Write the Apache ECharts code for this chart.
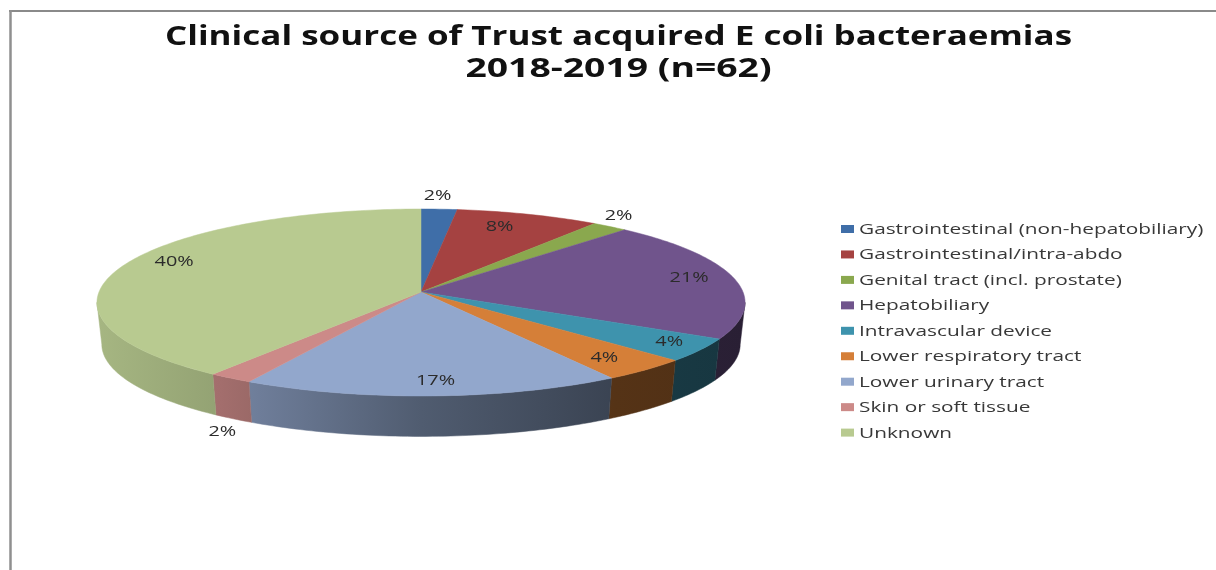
<!DOCTYPE html>
<html>
<head>
<meta charset="utf-8">
<style>html,body{margin:0;padding:0;background:#fff}#chart{width:1216px;height:570px}</style>
<script src="https://cdn.jsdelivr.net/npm/echarts@6/dist/echarts.min.js"></script>
</head>
<body>
<div id="chart"></div>
<script>
// Clinical sources and their share of the bacteraemia cases, in percent.
const titleLines = ['Clinical source of Trust acquired E coli bacteraemias', '2018-2019 (n=62)'];
const categories = [
  'Gastrointestinal (non-hepatobiliary)', 'Gastrointestinal/intra-abdo',
  'Genital tract (incl. prostate)', 'Hepatobiliary', 'Intravascular device',
  'Lower respiratory tract', 'Lower urinary tract', 'Skin or soft tissue', 'Unknown'
];
const shares = [2, 8, 2, 21, 4, 4, 17, 2, 40];
const colors = ['#3f6ea8', '#a54241', '#8aa84e', '#70548c', '#3e93ad', '#d57f38', '#92a7cc', '#cc8a88', '#b8ca90'];

// Label placement: radial position on the disc plus a small pixel nudge.
const labelRadius = [1.15, 0.84, 1.05, 0.83, 0.9, 0.85, 0.85, 1.0, 0.85];
const labelNudge = [[-4, -2], [-13, 1], [0, -8], [8, -2], [-1, -2], [-5, 1], [5, 2], [-8, 54], [6, -6]];

// Tilted disc: a perspective projection of the unit circle, apex at (cx, cy).
const cx = 421, cy = 292, radiusX = 322, radiusY = 92.3, persp = 0.1123;
const depth = 42, baseScale = 0.985;
const frontFrom = 96.4, frontTo = 263.6;  // angular range of the visible rim

const total = shares.reduce((a, b) => a + b, 0);
const cumulative = shares.reduce((acc, v) => { acc.push(acc[acc.length - 1] + v); return acc; }, [0]);
const toDeg = p => p / total * 360;

function project(deg, r) {
  const t = deg * Math.PI / 180, u = r * Math.sin(t), v = r * Math.cos(t), w = 1 + persp * v;
  return [cx + radiusX * u / w, cy - radiusY * v / w];
}
function lowerRim(p) {
  return [cx + (p[0] - cx) * baseScale, cy + depth + (p[1] - cy) * baseScale];
}
function arc(a0, a1, r) {
  const pts = [], n = Math.max(2, Math.ceil(a1 - a0));
  for (let i = 0; i <= n; i++) pts.push(project(a0 + (a1 - a0) * i / n, r));
  return pts;
}

// Rim shading darkens from left to right across the whole disc.
const shadeStops = [[0, 0.9], [0.19, 0.8], [0.25, 0.75], [0.5, 0.55], [0.8, 0.4], [1, 0.37]];
function shadedRim(hex) {
  const c = echarts.color.parse(hex);
  return new echarts.graphic.LinearGradient(cx - 324, 0, cx + 324, 0, shadeStops.map(s => ({
    offset: s[0],
    color: 'rgb(' + Math.round(c[0] * s[1]) + ',' + Math.round(c[1] * s[1]) + ',' + Math.round(c[2] * s[1]) + ')'
  })), true);
}

function renderRim(params) {
  const i = params.dataIndex;
  const a0 = Math.max(toDeg(cumulative[i]), frontFrom), a1 = Math.min(toDeg(cumulative[i + 1]), frontTo);
  if (a1 <= a0) return null;
  const top = arc(a0, a1, 1);
  const fill = shadedRim(colors[i]);
  return {
    type: 'polygon',
    shape: { points: top.concat(top.map(lowerRim).reverse()) },
    style: { fill: fill, stroke: fill, lineWidth: 0.5 }
  };
}

function renderFace(params) {
  const i = params.dataIndex;
  return {
    type: 'polygon',
    shape: { points: [[cx, cy]].concat(arc(toDeg(cumulative[i]), toDeg(cumulative[i + 1]), 1)) },
    style: { fill: colors[i], stroke: colors[i], lineWidth: 0.5 }
  };
}

function renderLabel(params, api) {
  const i = params.dataIndex;
  const p = project((toDeg(cumulative[i]) + toDeg(cumulative[i + 1])) / 2, labelRadius[i]);
  return {
    type: 'text',
    x: p[0] + labelNudge[i][0],
    y: p[1] + labelNudge[i][1],
    scaleX: 1.42,
    style: {
      text: api.value(0) + '%',
      font: '14px "Open Sans"',
      fill: '#2b2b2b',
      align: 'center',
      verticalAlign: 'middle'
    }
  };
}

// Key on the right: one swatch and one widened text per source.
const legendX = 841, legendY = 229, legendStep = 25.45;
const legendElements = [];
categories.forEach((name, i) => {
  const y = legendY + legendStep * i;
  legendElements.push({
    type: 'rect', silent: true, z: 5,
    shape: { x: legendX, y: y - 4, width: 13, height: 8 },
    style: { fill: colors[i] }
  });
  legendElements.push({
    type: 'text', silent: true, z: 5,
    x: legendX + 18, y: y + 1, scaleX: 1.486,
    style: { text: name, font: '14px "Open Sans"', fill: '#383838', align: 'left', verticalAlign: 'middle' }
  });
});

// Two-line heading, each line widened to its own span.
const titleElements = titleLines.map((line, i) => ({
  type: 'text', silent: true, x: 618.5, y: 37.5 + 32 * i, scaleX: i === 0 ? 1.346 : 1.435,
  style: { text: line, font: 'bold 26px "Open Sans"', fill: '#111', align: 'center', verticalAlign: 'middle' }
}));

const chart = echarts.init(document.getElementById('chart'), null, { renderer: 'canvas' });
chart.setOption({
  animation: false,
  backgroundColor: '#fff',
  graphic: [
    { type: 'line', silent: true, shape: { x1: 9, y1: 11, x2: 1216, y2: 11 }, style: { stroke: '#8a8a8a', lineWidth: 2 } },
    { type: 'line', silent: true, shape: { x1: 10.5, y1: 10, x2: 10.5, y2: 570 }, style: { stroke: '#8f8f8f', lineWidth: 2.5 } }
  ].concat(titleElements, legendElements),
  series: [
    { type: 'custom', name: 'rim', coordinateSystem: 'none', z: 1, silent: true, data: shares.map(v => [v]), renderItem: renderRim },
    { type: 'custom', name: 'share of cases', coordinateSystem: 'none', z: 2, silent: true, data: shares.map(v => [v]), renderItem: renderFace },
    { type: 'custom', name: 'labels', coordinateSystem: 'none', z: 3, silent: true, data: shares.map(v => [v]), renderItem: renderLabel }
  ]
});
</script>
</body>
</html>
